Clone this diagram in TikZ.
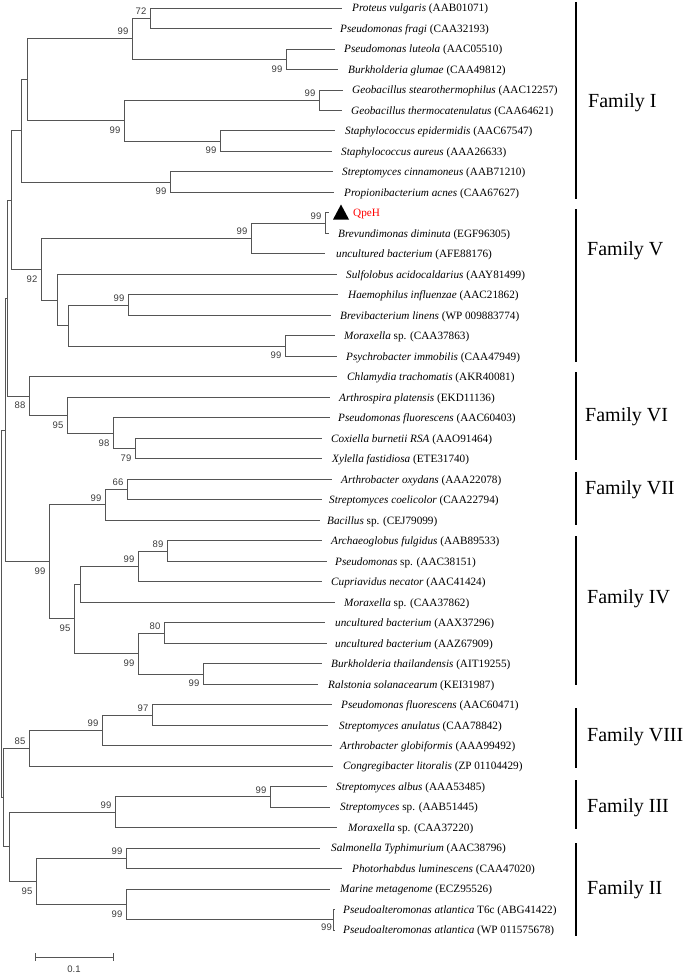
\documentclass[tikz,border=0pt]{standalone}
\usepackage{fontspec}
\setmainfont{Liberation Serif}
\newfontfamily\bsfont{Liberation Sans}
\definecolor{brgray}{RGB}{85,85,85}
\definecolor{bsgray}{RGB}{60,60,60}
\begin{document}
\begin{tikzpicture}[x=1pt,y=-1pt,
  br/.style={draw=brgray, line width=0.9pt},
  leaf/.style={anchor=base west, inner sep=0pt, yshift=-3.8pt, font=\fontsize{11.2}{13}\selectfont},
  bsa/.style={anchor=south east, inner xsep=3.5pt, inner ysep=3.5pt, font=\bsfont\fontsize{9.5}{11}\selectfont, text=bsgray},
  bsb/.style={anchor=north east, inner xsep=3.5pt, inner ysep=6pt, font=\bsfont\fontsize{9.5}{11}\selectfont, text=bsgray},
  fam/.style={anchor=base west, inner sep=0pt, yshift=-6.6pt, font=\fontsize{20}{24}\selectfont},
  fbar/.style={draw=black, line width=2pt}]
\useasboundingbox (0,0) rectangle (685,974);

% ---------- leaf tips ----------
\coordinate (t1) at (342,8.0);
\coordinate (t2) at (332,28.5);
\coordinate (t3) at (335,49.0);
\coordinate (t4) at (338,69.5);
\coordinate (t5) at (343,90.0);
\coordinate (t6) at (342,110.5);
\coordinate (t7) at (335,130.9);
\coordinate (t8) at (332,151.4);
\coordinate (t9) at (333,171.9);
\coordinate (t10) at (334,192.4);
\coordinate (t11) at (329,212.9);
\coordinate (t12) at (329,233.4);
\coordinate (t13) at (325,253.9);
\coordinate (t14) at (337,274.4);
\coordinate (t15) at (338,294.9);
\coordinate (t16) at (331,315.4);
\coordinate (t17) at (335,335.8);
\coordinate (t18) at (337,356.3);
\coordinate (t19) at (337,376.8);
\coordinate (t20) at (330,397.3);
\coordinate (t21) at (330,417.8);
\coordinate (t22) at (322,438.3);
\coordinate (t23) at (322,458.8);
\coordinate (t24) at (332,479.3);
\coordinate (t25) at (322,499.8);
\coordinate (t26) at (320,520.3);
\coordinate (t27) at (322,540.7);
\coordinate (t28) at (327,561.2);
\coordinate (t29) at (322,581.7);
\coordinate (t30) at (335,602.2);
\coordinate (t31) at (325,622.7);
\coordinate (t32) at (327,643.2);
\coordinate (t33) at (322,663.7);
\coordinate (t34) at (318,684.2);
\coordinate (t35) at (332,704.7);
\coordinate (t36) at (328,725.2);
\coordinate (t37) at (332,745.6);
\coordinate (t38) at (333,766.1);
\coordinate (t39) at (327,786.6);
\coordinate (t40) at (330,807.1);
\coordinate (t41) at (337,827.6);
\coordinate (t42) at (320,848.1);
\coordinate (t43) at (342,868.6);
\coordinate (t44) at (330,889.1);
\coordinate (t45) at (335,909.6);
\coordinate (t46) at (335,930.1);

% ---------- leaf labels ----------
\node[leaf] (L1) at (352,8.0) {\textit{Proteus vulgaris} (AAB01071)};
\node[leaf] (L2) at (340,28.5) {\textit{Pseudomonas fragi} (CAA32193)};
\node[leaf] (L3) at (344,49.0) {\textit{Pseudomonas luteola} (AAC05510)};
\node[leaf] (L4) at (348,69.5) {\textit{Burkholderia glumae} (CAA49812)};
\node[leaf] (L5) at (352,90.0) {\textit{Geobacillus stearothermophilus} (AAC12257)};
\node[leaf] (L6) at (351,110.5) {\textit{Geobacillus thermocatenulatus} (CAA64621)};
\node[leaf] (L7) at (345,130.9) {\textit{Staphylococcus epidermidis} (AAC67547)};
\node[leaf] (L8) at (341,151.4) {\textit{Staphylococcus aureus} (AAA26633)};
\node[leaf] (L9) at (342,171.9) {\textit{Streptomyces cinnamoneus} (AAB71210)};
\node[leaf] (L10) at (344,192.4) {\textit{Propionibacterium acnes} (CAA67627)};
\node[leaf, text=red] (L11) at (353,212.9) {QpeH};
\node[leaf] (L12) at (338,233.4) {\textit{Brevundimonas diminuta} (EGF96305)};
\node[leaf] (L13) at (336,253.9) {\textit{uncultured bacterium} (AFE88176)};
\node[leaf] (L14) at (346,274.4) {\textit{Sulfolobus acidocaldarius} (AAY81499)};
\node[leaf] (L15) at (348,294.9) {\textit{Haemophilus influenzae} (AAC21862)};
\node[leaf] (L16) at (340,315.4) {\textit{Brevibacterium linens} (WP 009883774)};
\node[leaf] (L17) at (344,335.8) {\textit{Moraxella} sp. (CAA37863)};
\node[leaf] (L18) at (346,356.3) {\textit{Psychrobacter immobilis} (CAA47949)};
\node[leaf] (L19) at (347,376.8) {\textit{Chlamydia trachomatis} (AKR40081)};
\node[leaf] (L20) at (339,397.3) {\textit{Arthrospira platensis} (EKD11136)};
\node[leaf] (L21) at (338,417.8) {\textit{Pseudomonas fluorescens} (AAC60403)};
\node[leaf] (L22) at (331,438.3) {\textit{Coxiella burnetii RSA} (AAO91464)};
\node[leaf] (L23) at (332,458.8) {\textit{Xylella fastidiosa} (ETE31740)};
\node[leaf] (L24) at (341,479.3) {\textit{Arthrobacter oxydans} (AAA22078)};
\node[leaf] (L25) at (329,499.8) {\textit{Streptomyces coelicolor} (CAA22794)};
\node[leaf] (L26) at (327,520.3) {\textit{Bacillus} sp. (CEJ79099)};
\node[leaf] (L27) at (331,540.7) {\textit{Archaeoglobus fulgidus} (AAB89533)};
\node[leaf] (L28) at (335,561.2) {\textit{Pseudomonas} sp. (AAC38151)};
\node[leaf] (L29) at (331,581.7) {\textit{Cupriavidus necator} (AAC41424)};
\node[leaf] (L30) at (344,602.2) {\textit{Moraxella} sp. (CAA37862)};
\node[leaf] (L31) at (335,622.7) {\textit{uncultured bacterium} (AAX37296)};
\node[leaf] (L32) at (335,643.2) {\textit{uncultured bacterium} (AAZ67909)};
\node[leaf] (L33) at (331,663.7) {\textit{Burkholderia thailandensis} (AIT19255)};
\node[leaf] (L34) at (328,684.2) {\textit{Ralstonia solanacearum} (KEI31987)};
\node[leaf] (L35) at (341,704.7) {\textit{Pseudomonas fluorescens} (AAC60471)};
\node[leaf] (L36) at (339,725.2) {\textit{Streptomyces anulatus} (CAA78842)};
\node[leaf] (L37) at (340,745.6) {\textit{Arthrobacter globiformis} (AAA99492)};
\node[leaf] (L38) at (343,766.1) {\textit{Congregibacter litoralis} (ZP 01104429)};
\node[leaf] (L39) at (336,786.6) {\textit{Streptomyces albus} (AAA53485)};
\node[leaf] (L40) at (340,807.1) {\textit{Streptomyces} sp. (AAB51445)};
\node[leaf] (L41) at (348,827.6) {\textit{Moraxella} sp. (CAA37220)};
\node[leaf] (L42) at (331,848.1) {\textit{Salmonella Typhimurium} (AAC38796)};
\node[leaf] (L43) at (352,868.6) {\textit{Photorhabdus luminescens} (CAA47020)};
\node[leaf] (L44) at (340,889.1) {\textit{Marine metagenome} (ECZ95526)};
\node[leaf] (L45) at (343,909.6) {\textit{Pseudoalteromonas atlantica} T6c (ABG41422)};
\node[leaf] (L46) at (343,930.1) {\textit{Pseudoalteromonas atlantica} (WP 011575678)};

% QpeH marker
\coordinate (q1) at (333,219.5);
\coordinate (q2) at (341,204.5);
\coordinate (q3) at (349,219.5);
\fill[black] (q1) -- (q2) -- (q3) -- cycle;

% ---------- internal nodes ----------
% Family I
\coordinate (n72) at (150,18.25);
\coordinate (n99a) at (286,59.25);
\coordinate (n99b) at (132,38.75);
\coordinate (nGeo) at (319,100.25);
\coordinate (nStaph) at (220,141.15);
\coordinate (n99c) at (124,120.7);
\coordinate (nX) at (27,79.7);
\coordinate (nSP) at (170,182.15);
\coordinate (nI) at (21,130.9);
% Family V
\coordinate (nQ) at (325,223.15);
\coordinate (nV1) at (251,238.5);
\coordinate (nV2) at (128,305.15);
\coordinate (nMP) at (285,346.05);
\coordinate (nV3) at (68,325.6);
\coordinate (nV4) at (57,300.0);
\coordinate (n92) at (41,269.25);
% Family VI
\coordinate (n79) at (135,448.55);
\coordinate (n98) at (113,433.2);
\coordinate (n95) at (67,415.25);
\coordinate (n88) at (29,396.0);
% Family VII
\coordinate (n66) at (127,489.55);
\coordinate (nVII) at (105,504.9);
% Family IV
\coordinate (n89) at (167,550.95);
\coordinate (nIV1) at (138,566.3);
\coordinate (nIV2) at (80,584.25);
\coordinate (n80) at (164,632.95);
\coordinate (nIV3) at (203,673.95);
\coordinate (nIV4) at (138,653.45);
\coordinate (n95IV) at (74,618.85);
\coordinate (n99D) at (49,561.9);
% Family VIII
\coordinate (n97) at (152,714.95);
\coordinate (nVIII) at (102,730.3);
\coordinate (n85) at (29,748.2);
% Family III
\coordinate (nIII1) at (270,796.85);
\coordinate (nIII2) at (115,812.2);
% Family II
\coordinate (nII1) at (126,858.35);
\coordinate (nPA) at (333,919.85);
\coordinate (nII2) at (126,904.5);
\coordinate (n95II) at (36,881.4);
% root ladder
\coordinate (nE) at (11,200.1);
\coordinate (nC) at (7,298.05);
\coordinate (nA) at (5,430.0);
\coordinate (nF) at (9,846.8);
\coordinate (nB) at (3,797.5);
\coordinate (nR) at (1,613.75);

% ---------- branches ----------
\foreach \p/\c in {
  nI/nX, nI/nSP, nX/n99b, nX/n99c, n99b/n72, n99b/n99a, n72/t1, n72/t2, n99a/t3, n99a/t4,
  n99c/nGeo, n99c/nStaph, nGeo/t5, nGeo/t6, nStaph/t7, nStaph/t8, nSP/t9, nSP/t10,
  n92/nV1, n92/nV4, nV1/nQ, nV1/t13, nQ/t11, nQ/t12, nV4/t14, nV4/nV3, nV3/nV2, nV3/nMP,
  nV2/t15, nV2/t16, nMP/t17, nMP/t18,
  n88/t19, n88/n95, n95/t20, n95/n98, n98/t21, n98/n79, n79/t22, n79/t23,
  n99D/nVII, n99D/n95IV, nVII/n66, nVII/t26, n66/t24, n66/t25,
  n95IV/nIV2, n95IV/nIV4, nIV2/nIV1, nIV2/t30, nIV1/n89, nIV1/t29, n89/t27, n89/t28,
  nIV4/n80, nIV4/nIV3, n80/t31, n80/t32, nIII1/t39, nIII1/t40,
  nIV3/t33, nIV3/t34,
  n85/nVIII, n85/t38, nVIII/n97, nVIII/t37, n97/t35, n97/t36,
  nIII2/nIII1, nIII2/t41,
  n95II/nII1, n95II/nII2, nII1/t42, nII1/t43, nII2/t44, nII2/nPA, nPA/t45, nPA/t46,
  nE/nI, nE/n92, nC/nE, nC/n88, nA/nC, nA/n99D, nF/nIII2, nF/n95II, nB/n85, nB/nF,
  nR/nA, nR/nB}
  \draw[br] (\p) |- (\c);

% ---------- bootstrap values ----------
\node[bsa] (b72) at (n72) {72};
\node[bsa] (b99b) at (n99b) {99};
\node[bsb] (b99a) at (n99a) {99};
\node[bsa] (bGeo) at (nGeo) {99};
\node[bsb] (b99c) at (n99c) {99};
\node[bsb] (bStaph) at (nStaph) {99};
\node[bsb] (bSP) at (nSP) {99};
\node[bsa] (bQ) at (nQ) {99};
\node[bsa] (bV1) at (nV1) {99};
\node[bsa] (bV2) at (nV2) {99};
\node[bsb] (bMP) at (nMP) {99};
\node[bsb] (b92) at (n92) {92};
\node[bsb] (b79) at (n79) {79};
\node[bsb] (b98) at (n98) {98};
\node[bsb] (b95) at (n95) {95};
\node[bsb] (b88) at (n88) {88};
\node[bsa] (b66) at (n66) {66};
\node[bsa] (bVII) at (nVII) {99};
\node[bsa] (b89) at (n89) {89};
\node[bsa] (bIV1) at (nIV1) {99};
\node[bsa] (b80) at (n80) {80};
\node[bsb] (bIV3) at (nIV3) {99};
\node[bsb] (bIV4) at (nIV4) {99};
\node[bsb] (b95IV) at (n95IV) {95};
\node[bsb] (b99D) at (n99D) {99};
\node[bsa] (b97) at (n97) {97};
\node[bsa] (bVIII) at (nVIII) {99};
\node[bsa] (b85) at (n85) {85};
\node[bsa] (bIII1) at (nIII1) {99};
\node[bsa] (bIII2) at (nIII2) {99};
\node[bsa] (bII1) at (nII1) {99};
\node[bsb, inner xsep=1pt, inner ysep=4pt] (bPA) at (nPA) {99};
\node[bsb] (bII2) at (nII2) {99};
\node[bsb] (b95II) at (n95II) {95};

% ---------- family bars and labels ----------
\coordinate (fI1) at (576,2);   \coordinate (fI2) at (576,199);
\coordinate (fV1) at (576,209); \coordinate (fV2) at (576,362);
\coordinate (fVI1) at (576,372); \coordinate (fVI2) at (576,460);
\coordinate (fVII1) at (576,472); \coordinate (fVII2) at (576,525);
\coordinate (fIV1) at (576,536); \coordinate (fIV2) at (576,685);
\coordinate (fVIII1) at (576,708); \coordinate (fVIII2) at (576,768);
\coordinate (fIII1) at (576,780); \coordinate (fIII2) at (576,829);
\coordinate (fII1) at (576,843); \coordinate (fII2) at (576,936);
\foreach \f in {I,V,VI,VII,IV,VIII,III,II}
  \draw[fbar] (f\f1) -- (f\f2);
\node[fam] (FI) at (588,101) {Family I};
\node[fam] (FV) at (587,249) {Family V};
\node[fam] (FVI) at (585,415) {Family VI};
\node[fam] (FVII) at (585,488) {Family VII};
\node[fam] (FIV) at (587,597) {Family IV};
\node[fam] (FVIII) at (587,735) {Family VIII};
\node[fam] (FIII) at (587,806) {Family III};
\node[fam] (FII) at (587,888) {Family II};

% ---------- scale bar ----------
\coordinate (sb1) at (35,957);
\coordinate (sb2) at (113,957);
\draw[br] (sb1) -- (sb2);
\draw[br] ([yshift=4pt]sb1) -- ([yshift=-4pt]sb1);
\draw[br] ([yshift=4pt]sb2) -- ([yshift=-4pt]sb2);
\node[anchor=base, inner sep=0pt, font=\bsfont\fontsize{9.5}{11}\selectfont, text=bsgray] (sbl) at (74,972) {0.1};
\end{tikzpicture}
\end{document}
